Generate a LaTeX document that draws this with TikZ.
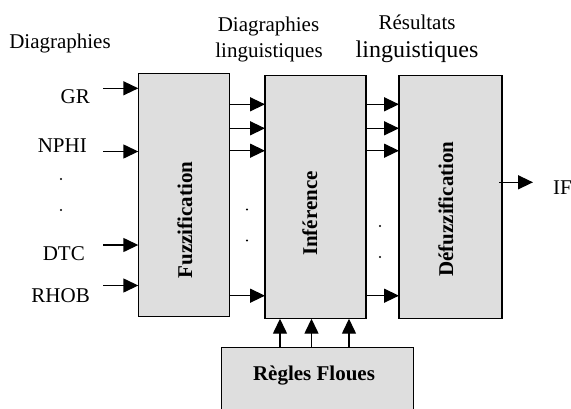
\documentclass[tikz,border=0pt]{standalone}
\usepackage{fontspec}
\setmainfont{Liberation Serif}
\usetikzlibrary{arrows.meta}
\definecolor{boxgray}{HTML}{DEDEDE}
\begin{document}
\begin{tikzpicture}[x=1pt,y=-1pt,
  blk/.style={draw=black,line width=1.2pt,fill=boxgray},
  arr/.style={line width=1.4pt,-{Triangle[length=15pt,width=14pt]}},
  lbl/.style={font=\fontsize{21}{24}\selectfont,inner sep=0pt},
  biglbl/.style={font=\fontsize{24}{27}\selectfont,inner sep=0pt},
  rlbl/.style={font=\fontsize{21}{24}\selectfont\bfseries,inner sep=0pt,rotate=90,anchor=base},
  pt/.style={circle,fill=black,inner sep=0pt,minimum size=2.2pt}]
\useasboundingbox (0,0) rectangle (571,408);
% blocks
\path[blk] (138.3,73.3) rectangle (229.3,316.7);
\path[blk] (265,75.7) rectangle (366,318.7);
\path[blk] (399,75.5) rectangle (502,318.7);
\path[blk] (221.7,347.3) rectangle (413.3,410);
\node (fuzz) [rlbl] at (192,220) {Fuzzification};
\node (inf) [rlbl] at (317,213.5) {Inférence};
\node (def) [rlbl] at (453,209) {Défuzzification};
\node (regles) [lbl,font=\fontsize{21}{24}\selectfont\bfseries,anchor=base] at (314,380) {Règles Floues};
% headers
\node (h1) [lbl,anchor=base] at (60,48) {Diagraphies};
\node (h2a) [lbl,anchor=base] at (268.5,31) {Diagraphies};
\node (h2b) [lbl,anchor=base] at (269,57) {linguistiques};
\node (h3a) [lbl,anchor=base] at (417,29) {Résultats};
\node (h3b) [biglbl,anchor=base] at (417,57) {linguistiques};
% input labels
\node (gr) [lbl,anchor=base east] at (90,103) {GR};
\node (nphi) [lbl,anchor=base east] at (87,152) {NPHI};
\node (dtc) [lbl,anchor=base east] at (85,260) {DTC};
\node (rhob) [lbl,anchor=base east] at (90,302) {RHOB};
\node (if) [lbl,anchor=base west] at (553,194) {IF};
% input arrows
\foreach \n/\y in {a/88.3,b/151.5,c/245,d/285.5}{
  \coordinate (in\n) at (103.3,\y);
  \coordinate (fi\n) at (138.3,\y);
  \draw[arr] (in\n) -- (fi\n);
}
% fuzz -> inf
\foreach \n/\y in {a/104.3,b/128.3,c/150.7,d/295.7}{
  \coordinate (fo\n) at (229.3,\y);
  \coordinate (ii\n) at (265,\y);
  \draw[arr] (fo\n) -- (ii\n);
}
% inf -> def
\foreach \n/\y in {a/104.3,b/128.3,c/150.7,d/295.7}{
  \coordinate (io\n) at (366,\y);
  \coordinate (di\n) at (399,\y);
  \draw[arr] (io\n) -- (di\n);
}
% output
\coordinate (dout) at (499,182.3);
\coordinate (ifend) at (533,182.3);
\draw[arr] (dout) -- (ifend);
% rules arrows
\foreach \n/\x in {a/280,b/311.5,c/349}{
  \coordinate (r\n) at (\x,347.3);
  \coordinate (ib\n) at (\x,318.7);
  \draw[arr] (r\n) -- (ib\n);
}
% dots
\node (d1) [pt] at (61,179) {};
\node (d2) [pt] at (61,210) {};
\node (d3) [pt] at (247,209.5) {};
\node (d4) [pt] at (247,240.5) {};
\node (d5) [pt] at (380,226) {};
\node (d6) [pt] at (380,257) {};
\end{tikzpicture}
\end{document}
